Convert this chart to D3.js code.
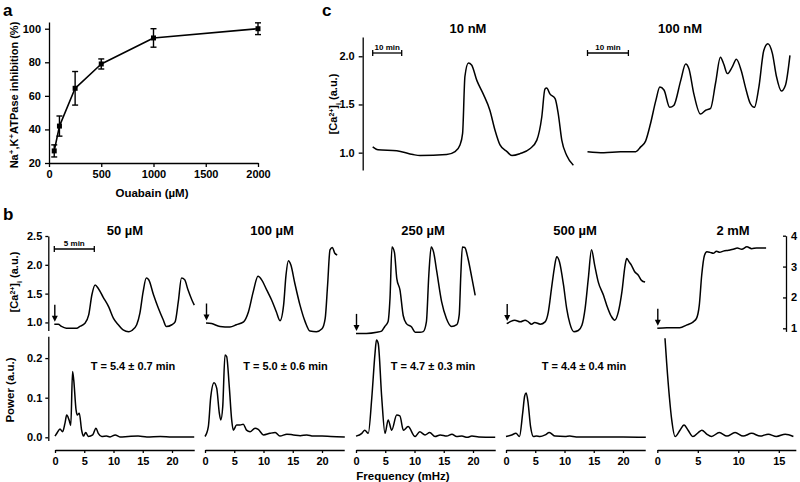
<!DOCTYPE html>
<html><head><meta charset="utf-8">
<script src="https://cdn.jsdelivr.net/npm/d3@7"></script>
<style>
body{margin:0;background:#fff}
svg{display:block}
text{font-family:"Liberation Sans",Arial,Helvetica,sans-serif;font-weight:bold;fill:#000}
</style>
</head><body>
<svg id="fig" width="800" height="482"></svg>
<script>
// ---------- Panel a : dose response ----------
const ouabainConc = [50, 100, 250, 500, 1000, 2000];
const inhibitionMean = [27.2, 42, 64.5, 79, 94.5, 100];
const inhibitionErr = [3.6, 6, 10, 3, 5.5, 3.5];
const aXTicks = [0, 500, 1000, 1500, 2000];
const aYTicks = [20, 40, 60, 80, 100];

// ---------- Panel c : low concentrations ----------
const c10Time = [0,1.8,8.3,13.9,16.3,25.5,28.4,30.1,31.0,31.8,33.0,34.1,35.9,38.1,40.4,42.2,43.9,46.3,48.0,50.8,54.2,56.6,58.3,59.4,60.0,61.1,62.9,64.0,65.2,66.9,69.2];
const c10Ca = [1.06,1.03,1.02,0.98,0.97,0.98,1.01,1.08,1.20,1.79,1.93,1.91,1.75,1.61,1.44,1.23,1.08,1.01,0.97,0.99,1.04,1.13,1.37,1.66,1.67,1.61,1.56,1.40,1.13,0.97,0.87];
const c100Time = [0,4.0,8.1,11.8,13.0,14.2,15.4,16.7,17.7,18.7,20.1,21.1,22.8,24.0,24.8,26.0,27.6,28.9,30.1,31.3,32.5,33.3,34.2,35.4,36.4,37.6,38.6,39.8,40.8,41.9,43.1,44.1,45.2,46.2,47.4,48.4,49.5];
const c100Ca = [1.01,1.00,1.01,1.01,1.06,1.12,1.30,1.54,1.68,1.65,1.47,1.49,1.75,1.92,1.87,1.61,1.40,1.44,1.46,1.72,1.99,1.92,1.82,1.89,1.97,1.85,1.68,1.51,1.47,1.68,2.06,2.13,2.03,1.79,1.64,1.70,2.01];
const cTitles = ["10 nM", "100 nM"];
const cYTicks = [1.0, 1.5, 2.0];

// ---------- Panel b : Ca traces ----------
const bTitles = ["50 \u00b5M", "100 \u00b5M", "250 \u00b5M", "500 \u00b5M", "2 mM"];
const b50Time = [0,0.5,0.9,1.5,2.8,3.2,3.8,4.3,4.7,5.1,5.5,6.1,6.8,7.4,8.0,8.6,9.3,9.7,10.3,10.7,11.1,11.5,11.8,12.4,13.0,13.6,14.0,14.7,15.1,15.5,15.9,16.3,16.7,17.2,17.5];
const b50Ca = [0.97,0.97,0.93,0.90,0.90,0.93,0.98,1.13,1.48,1.65,1.59,1.44,1.27,1.07,0.96,0.87,0.84,0.86,0.96,1.16,1.53,1.77,1.74,1.48,1.25,1.05,0.93,0.96,1.01,1.36,1.77,1.74,1.57,1.39,1.30];
const b100Time = [0,0.7,1.75,3.0,3.8,4.7,5.3,5.9,6.5,7.0,7.6,8.2,8.8,9.25,9.7,10.0,10.3,10.6,11.1,11.75,12.4,13.0,13.8,14.5,14.9,15.2,15.5,15.8,16.1,16.4];
const b100Ca = [0.99,0.98,0.93,0.92,0.96,1.01,1.18,1.53,1.80,1.73,1.56,1.39,1.18,1.03,1.30,1.82,2.07,2.00,1.68,1.30,1.01,0.85,0.84,0.89,1.07,1.65,2.26,2.30,2.20,2.17];
const b250Time = [0,1.3,2.6,3.2,3.6,4.0,4.25,4.5,4.8,5.1,5.5,5.9,6.3,6.95,7.4,8.0,8.4,8.8,9.1,9.4,9.7,10.1,10.7,11.3,11.95,12.6,12.9,13.1,13.3,13.6,14.0,14.5,14.9];
const b250Ca = [0.81,0.81,0.83,0.85,0.93,1.01,1.42,2.31,2.22,1.76,1.56,1.12,0.98,0.92,0.83,0.83,0.84,1.01,1.82,2.31,2.22,1.88,1.36,1.07,0.93,0.96,1.13,1.82,2.31,2.30,2.11,1.76,1.47];
const b500Time = [0,0.4,1.0,1.7,2.3,2.7,3.1,3.5,4.2,4.8,5.2,5.6,5.95,6.25,6.6,7.1,7.5,7.9,8.4,8.95,9.4,9.8,10.2,10.6,11.0,11.45,12.1,12.5,13.1,13.5,13.95,14.4,14.8,15.0,15.3,15.6,16.0,16.45,16.85,17.3];
const b500Ca = [0.98,1.01,1.04,1.01,1.04,1.01,0.97,1.0,0.97,1.01,1.18,1.59,1.94,2.14,2.05,1.65,1.24,0.98,0.84,0.86,0.95,1.24,1.76,2.26,1.99,1.70,1.47,1.30,1.10,1.04,1.18,1.53,1.99,2.11,2.05,1.99,1.88,1.82,1.73,1.70];
const b2mTime = [0,1.2,2.8,3.7,4.5,4.9,5.25,5.55,5.9,6.2,6.6,7.0,7.4,7.8,8.25,8.9,9.5,10.0,10.55,11.2,11.8,12.4,13.05,13.6];
const b2mCa = [1.00,1.02,1.02,1.11,1.21,1.32,1.75,2.72,3.37,3.48,3.46,3.43,3.50,3.46,3.50,3.53,3.56,3.60,3.56,3.64,3.58,3.60,3.60,3.60];
const bYTicks = [1.0, 1.5, 2.0, 2.5];
const bRightTicks = [1, 2, 3, 4];

// ---------- Panel b : power spectra ----------
const s50Freq = [0,0.4,0.85,1.3,1.7,2.0,2.4,2.7,3.0,3.2,3.6,3.8,4.15,4.55,4.85,5.25,5.7,6.45,7.0,7.4,8.0,8.8,9.4,10.3,11.1,12.5,14.2,15.7,18,20,23.8];
const s50Pow = [0.003,0.012,0.021,0.014,0.035,0.056,0.044,0.03,0.166,0.145,0.069,0.056,0.061,0.018,0.003,0.012,0.002,0.006,0.023,0.010,0.002,0.003,0.001,0.006,0.001,0.002,0.003,0.001,0.002,0.001,0.001];
const s100Freq = [0,0.57,0.97,1.54,2.0,2.45,2.7,3.03,3.42,3.7,4.15,4.56,4.84,5.4,6.0,6.55,7.1,7.7,8.55,9.1,10.0,11.1,12.0,12.8,14.0,15.1,16.3,17.4,18.5,20,21.5,23.9];
const s100Pow = [0.002,0.027,0.10,0.138,0.124,0.061,0.044,0.077,0.208,0.204,0.128,0.044,0.018,0.031,0.031,0.033,0.018,0.014,0.023,0.02,0.006,0.01,0.012,0.003,0.008,0.006,0.004,0.006,0.003,0.003,0.002,0.001];
const s250Freq = [0,1.0,1.5,2.1,2.7,3.25,3.5,3.8,4.4,4.96,5.5,6.1,6.96,7.5,8.1,8.9,10.1,10.9,11.8,12.6,13.5,14.4,15.5,16.4,17.2,18.1,19.0,19.8,21,23.8];
const s250Pow = [0.003,0.010,0.018,0.01,0.10,0.212,0.246,0.237,0.10,0.01,0.044,0.018,0.056,0.054,0.018,0.027,0.002,0.014,0.006,0.012,0.002,0.006,0.003,0.008,0.002,0.003,0.0,0.003,0.001,0.0];
const s500Freq = [0,0.97,1.7,2.3,2.85,3.2,3.45,3.75,4.2,4.7,5.2,5.8,6.7,7.4,8.4,10.1,10.9,12,14,17,20,23.9];
const s500Pow = [0.002,0.006,0.01,0.002,0.061,0.105,0.112,0.09,0.027,0.002,0.003,0.002,0.006,0.012,0.003,0.002,0.003,0.001,0.001,0.001,0.001,0.0];
const s2mFreq = [0.95,1.16,1.5,1.78,2.2,2.8,3.3,3.8,4.4,5.06,5.5,6.1,6.7,7.65,8.6,9.6,10.6,11.65,12.7,13.7,14.7,15.8,16.8];
const s2mPow = [0.25,0.187,0.10,0.044,0.002,0.018,0.031,0.018,0.002,0.012,0.018,0.008,0.002,0.012,0.003,0.012,0.003,0.01,0.003,0.008,0.002,0.008,0.002];
const periodLabels = ["T = 5.4 \u00b1 0.7 min", "T = 5.0 \u00b1 0.6 min", "T = 4.7 \u00b1 0.3 min", "T = 4.4 \u00b1 0.4 min"];
const pYTicks = [0.0, 0.1, 0.2];
const fTicks = [0, 5, 10, 15, 20];
const fTicks2m = [0, 5, 10, 15];

// ================= drawing =================
const svg = d3.select("#fig");
const FS = 11;
function styleAxis(g, fs) {
  g.selectAll("path,line").attr("stroke", "#000").attr("stroke-width", 1.3);
  g.selectAll("text").attr("font-size", fs || FS).attr("fill", "#000");
}
function drawLine(x, y, t, v, curve, sw) {
  svg.append("path").datum(d3.zip(t, v))
    .attr("fill", "none").attr("stroke", "#000").attr("stroke-width", sw || 1.5)
    .attr("stroke-linejoin", "round")
    .attr("d", d3.line().x(d => x(d[0])).y(d => y(d[1])).curve(curve || d3.curveMonotoneX));
}
function label(x, y, txt, fs, anchor) {
  return svg.append("text").attr("x", x).attr("y", y).attr("font-size", fs)
    .attr("text-anchor", anchor || "middle").text(txt);
}
function caLabel(x, y) {
  const t = svg.append("text").attr("transform", `translate(${x},${y}) rotate(-90)`)
    .attr("text-anchor", "middle").attr("font-size", 11);
  t.append("tspan").text("[Ca");
  t.append("tspan").attr("baseline-shift", "super").attr("font-size", 7).text("2+");
  t.append("tspan").text("]");
  t.append("tspan").attr("baseline-shift", "sub").attr("font-size", 7).text("i");
  t.append("tspan").text(" (a.u.)");
}
function scaleBar(x, y0, len, y, txt) {
  const g = svg.append("g").attr("stroke", "#000").attr("stroke-width", 1.3);
  g.append("line").attr("x1", x(0)).attr("x2", x(len)).attr("y1", y).attr("y2", y);
  g.append("line").attr("x1", x(0)).attr("x2", x(0)).attr("y1", y - 3).attr("y2", y + 3);
  g.append("line").attr("x1", x(len)).attr("x2", x(len)).attr("y1", y - 3).attr("y2", y + 3);
  label((x(0) + x(len)) / 2, y - 3, txt, 8);
}

// ---- Panel a ----
label(3, 16, "a", 17, "start");
const xA = d3.scaleLinear([0, 2000], [49, 258]);
const yA = d3.scaleLinear([20, 104], [163, 22]);
styleAxis(svg.append("g").attr("transform", "translate(0,163)")
  .call(d3.axisBottom(xA).tickValues(aXTicks).tickFormat(d3.format("d")).tickSize(4).tickSizeOuter(0).tickPadding(3)));
styleAxis(svg.append("g").attr("transform", "translate(49,0)")
  .call(d3.axisLeft(yA).tickValues(aYTicks).tickFormat(d3.format("d")).tickSize(4).tickSizeOuter(0).tickPadding(4)));
drawLine(xA, yA, ouabainConc, inhibitionMean, d3.curveLinear, 1.6);
const eg = svg.append("g").attr("stroke", "#000").attr("stroke-width", 1.4);
ouabainConc.forEach((c, i) => {
  const cx = xA(c), lo = yA(inhibitionMean[i] - inhibitionErr[i]), hi = yA(inhibitionMean[i] + inhibitionErr[i]);
  eg.append("line").attr("x1", cx).attr("x2", cx).attr("y1", lo).attr("y2", hi);
  eg.append("line").attr("x1", cx - 3).attr("x2", cx + 3).attr("y1", lo).attr("y2", lo);
  eg.append("line").attr("x1", cx - 3).attr("x2", cx + 3).attr("y1", hi).attr("y2", hi);
  svg.append("rect").attr("x", cx - 2.5).attr("y", yA(inhibitionMean[i]) - 2.5)
    .attr("width", 5).attr("height", 5).attr("fill", "#000");
});
label(152, 197, "Ouabain (\u00b5M)", 11.5);
{
  const t = svg.append("text").attr("transform", "translate(14,95) rotate(-90)")
    .attr("text-anchor", "middle").attr("font-size", 11).attr("dy", "0.35em");
  t.append("tspan").text("Na");
  t.append("tspan").attr("baseline-shift", "super").attr("font-size", 8).text("+");
  t.append("tspan").text(",K");
  t.append("tspan").attr("baseline-shift", "super").attr("font-size", 8).text("+");
  t.append("tspan").text("ATPase inhibition (%)");
}

// ---- Panel c ----
label(322, 16, "c", 17, "start");
const yC = d3.scaleLinear([0.82, 2.2], [170, 37]);
styleAxis(svg.append("g").attr("transform", "translate(362.7,0)")
  .call(d3.axisLeft(yC).tickValues(cYTicks).tickFormat(d3.format(".1f")).tickSize(4).tickSizeOuter(0).tickPadding(4)));
caLabel(337, 104);
const xC10 = d3.scaleLinear([0, 10], [372.7, 401.7]);
const xC100 = d3.scaleLinear([0, 10], [587.5, 628.4]);
drawLine(xC10, yC, c10Time, c10Ca);
drawLine(xC100, yC, c100Time, c100Ca);
scaleBar(xC10, 0, 10, 53, "10 min");
scaleBar(xC100, 0, 10, 53, "10 min");
label(468, 33, cTitles[0], 13);
label(680, 33, cTitles[1], 13);

// ---- Panel b : traces ----
label(3, 220, "b", 17, "start");
const yB = d3.scaleLinear([0.86, 2.5], [330.5, 236]);
const yBR = d3.scaleLinear([0.9, 4], [331.4, 235.7]);
styleAxis(svg.append("g").attr("transform", "translate(48.3,0)")
  .call(d3.axisLeft(yB).tickValues(bYTicks).tickFormat(d3.format(".1f")).tickSize(3).tickSizeOuter(0).tickPadding(3)));
styleAxis(svg.append("g").attr("transform", "translate(786,0)")
  .call(d3.axisRight(yBR).tickValues(bRightTicks).tickFormat(d3.format("d")).tickSize(-3).tickSizeOuter(0).tickPadding(5)));
caLabel(18, 282);
const bStarts = [54.3, 206, 356, 506.7, 657.3];
const bTitleX = [125, 272, 423, 575, 733];
const bTraces = [[b50Time, b50Ca], [b100Time, b100Ca], [b250Time, b250Ca], [b500Time, b500Ca], [b2mTime, b2mCa]];
bTraces.forEach((tr, i) => {
  const x = d3.scaleLinear([0, 5], [bStarts[i], bStarts[i] + 40]);
  const y = i === 4 ? yBR : yB;
  drawLine(x, y, tr[0], tr[1]);
  // stimulus arrow
  const ax = x(0) + 0.5, tip = y(tr[1][0]) - 2.5;
  svg.append("line").attr("x1", ax).attr("x2", ax).attr("y1", tip - 17).attr("y2", tip - 4)
    .attr("stroke", "#000").attr("stroke-width", 1.4);
  svg.append("path").attr("d", `M${ax - 3},${tip - 6}L${ax + 3},${tip - 6}L${ax},${tip}Z`).attr("fill", "#000");
  label(bTitleX[i], 235, bTitles[i], 13);
  if (i === 0) scaleBar(x, 0, 5, 249, "5 min");
});

// ---- Panel b : spectra ----
const yP = d3.scaleLinear([0, 0.25], [437.3, 338.3]);
const yPAxis = yP.copy().domain([-0.008, 0.255]).range([yP(-0.008), yP(0.255)]);
styleAxis(svg.append("g").attr("transform", "translate(48.3,0)")
  .call(d3.axisLeft(yPAxis).tickValues(pYTicks).tickFormat(d3.format(".1f")).tickSize(3).tickSizeOuter(0).tickPadding(3)));
svg.append("text").attr("transform", "translate(14,390) rotate(-90)")
  .attr("text-anchor", "middle").attr("font-size", 11.5).text("Power (a.u.)");
const sStarts = [55, 205, 356, 506, 657.3];
const sPx = [5.85, 5.85, 5.85, 5.85, 8.1];
const sMax = [23.8, 23.8, 23.8, 23.8, 17.1];
const spectra = [[s50Freq, s50Pow], [s100Freq, s100Pow], [s250Freq, s250Pow], [s500Freq, s500Pow], [s2mFreq, s2mPow]];
const periodX = [133, 285.5, 433, 584];
spectra.forEach((sp, i) => {
  const x = d3.scaleLinear([0, sMax[i]], [sStarts[i], sStarts[i] + sMax[i] * sPx[i]]);
  drawLine(x, yP, sp[0], sp[1]);
  styleAxis(svg.append("g").attr("transform", "translate(0,450)")
    .call(d3.axisBottom(x).tickValues(i === 4 ? fTicks2m : fTicks).tickFormat(d3.format("d")).tickSize(3).tickSizeOuter(0).tickPadding(4)));
  if (i < 4) label(periodX[i], 370, periodLabels[i], 11);
});
label(403, 480, "Frequency (mHz)", 11.5);
</script>
</body></html>
